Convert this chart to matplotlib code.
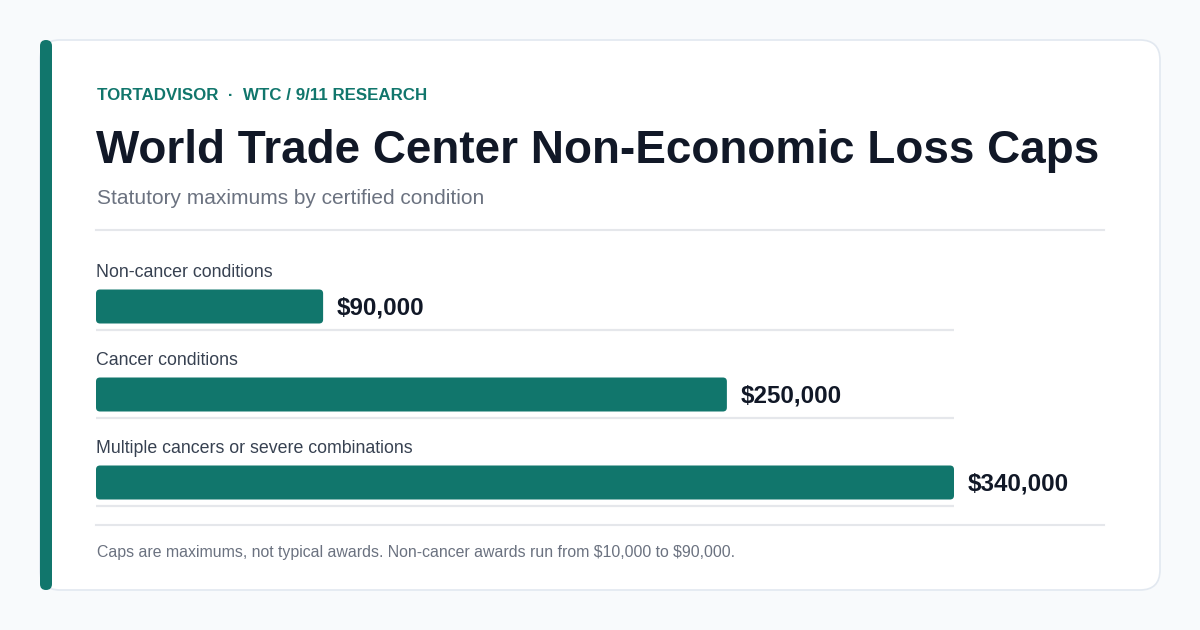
import matplotlib
matplotlib.use("Agg")
import matplotlib.pyplot as plt
from matplotlib.patches import FancyBboxPatch

# ---- data ----
categories = ["Non-cancer conditions", "Cancer conditions", "Multiple cancers or severe combinations"]
values = [90000, 250000, 340000]
value_labels = ["$90,000", "$250,000", "$340,000"]
kicker = "TORTADVISOR  \u00b7  WTC / 9/11 RESEARCH"
title = "World Trade Center Non-Economic Loss Caps"
subtitle = "Statutory maximums by certified condition"
footnote = "Caps are maximums, not typical awards. Non-cancer awards run from $10,000 to $90,000."

TEAL = "#11766c"
DARK = "#111827"
GRAY = "#6b7280"
LABEL = "#374151"
LINE = "#e5e7eb"
FONT = ["Liberation Sans", "DejaVu Sans"]
plt.rcParams["font.family"] = FONT
plt.rcParams["text.parse_math"] = False

W, H = 1200, 630
fig = plt.figure(figsize=(W / 100, H / 100), dpi=100)
fig.patch.set_facecolor("#f8fafc")

bg = fig.add_axes([0, 0, 1, 1])
bg.set_xlim(0, W)
bg.set_ylim(H, 0)
bg.axis("off")

# card
card = FancyBboxPatch((40, 40), 1120, 550, boxstyle="round,pad=0,rounding_size=20",
                      facecolor="white", edgecolor="#e2e8f0", linewidth=1.2, zorder=1)
bg.add_patch(card)
accent = FancyBboxPatch((40, 40), 12, 550, boxstyle="round,pad=0,rounding_size=6",
                        facecolor=TEAL, edgecolor="none", zorder=2)
bg.add_patch(accent)

bg.text(97, 95, kicker, fontsize=12.2, fontweight="bold", color=TEAL, va="center", ha="left")
bg.text(96, 151, title, fontsize=33, fontweight="bold", color=DARK, va="center", ha="left")
bg.text(97, 199, subtitle, fontsize=15, color=GRAY, va="center", ha="left")
bg.plot([96, 1104], [230, 230], color=LINE, lw=1.5, zorder=2)
bg.plot([96, 1104], [525, 525], color=LINE, lw=1.5, zorder=2)
bg.text(97, 552, footnote, fontsize=11.4, color=GRAY, va="center", ha="left")

# bar axes: x from 96px to 954px, row spacing 88px
row_px = 88.0
top_px = 306.5 - 0.6 * row_px
bot_px = 482.5 + 0.4 * row_px
ax = fig.add_axes([96 / W, 1 - bot_px / H, 858 / W, (bot_px - top_px) / H])
ax.set_xlim(0, max(values))
ax.set_ylim(2.4, -0.6)
ax.axis("off")
ax.patch.set_alpha(0)

ypos = list(range(len(categories)))
bar_h = 34 / row_px
bars = ax.barh(ypos, values, height=bar_h, color=TEAL, alpha=0)

# redraw each bar with rounded corners from its own geometry
inv = bg.transData.inverted()
for b in bars:
    ext = b.get_window_extent()
    (x0, y0), (x1, y1) = inv.transform([[ext.x0, ext.y0], [ext.x1, ext.y1]])
    ylo, yhi = min(y0, y1), max(y0, y1)
    bg.add_patch(FancyBboxPatch((x0, ylo), x1 - x0, yhi - ylo,
                                boxstyle="round,pad=0,rounding_size=4",
                                facecolor=TEAL, edgecolor="none", zorder=3))

for i, (cat, v, lab) in enumerate(zip(categories, values, value_labels)):
    ax.plot([0, max(values)], [i + 23.5 / row_px] * 2, color=LINE, lw=1.6, zorder=2,
            solid_capstyle="butt", clip_on=False)
    ax.text(0, i - 34 / row_px, cat, fontsize=12.8, color=LABEL, va="center", ha="left")
    ax.annotate(lab, xy=(v, i), xytext=(14, -1), textcoords="offset pixels",
                fontsize=17.4, fontweight="bold", color=DARK, va="center", ha="left")

fig.savefig("out.png", dpi=100, facecolor=fig.get_facecolor())
